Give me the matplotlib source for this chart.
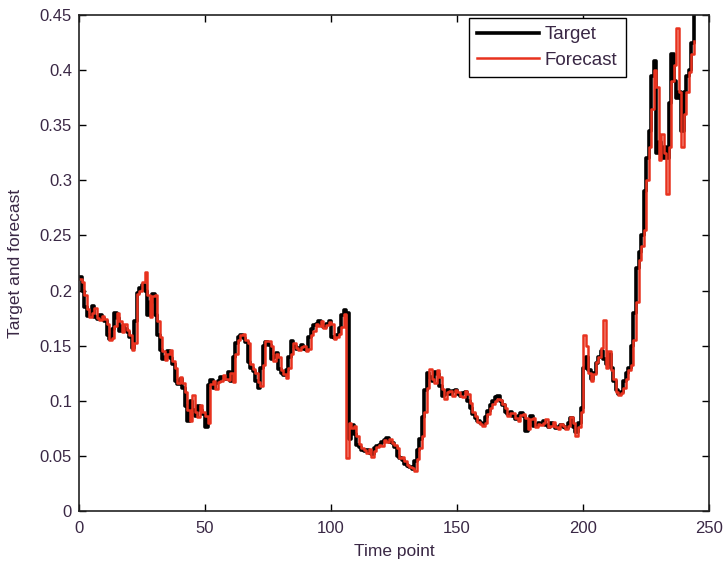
import numpy as np
import matplotlib
matplotlib.use('Agg')
import matplotlib.pyplot as plt

# Values (time points 0..244)
target = [
    0.212, 0.200, 0.185, 0.177, 0.178, 0.186, 0.176, 0.174, 0.178, 0.175,
    0.172, 0.160, 0.156, 0.165, 0.180, 0.175, 0.163, 0.168, 0.165, 0.162,
    0.158, 0.148, 0.172, 0.198, 0.202, 0.205, 0.200, 0.178, 0.190, 0.197,
    0.178, 0.160, 0.146, 0.138, 0.140, 0.145, 0.139, 0.133, 0.118, 0.115,
    0.120, 0.112, 0.095, 0.082, 0.100, 0.092, 0.086, 0.095, 0.092, 0.088,
    0.076, 0.114, 0.119, 0.112, 0.116, 0.118, 0.122, 0.121, 0.120, 0.126,
    0.118, 0.140, 0.152, 0.158, 0.160, 0.157, 0.153, 0.135, 0.130, 0.127,
    0.118, 0.112, 0.130, 0.150, 0.153, 0.151, 0.138, 0.140, 0.143, 0.129,
    0.125, 0.123, 0.128, 0.140, 0.154, 0.150, 0.147, 0.148, 0.151, 0.147,
    0.146, 0.158, 0.165, 0.169, 0.170, 0.172, 0.169, 0.167, 0.170, 0.172,
    0.158, 0.157, 0.160, 0.166, 0.178, 0.182, 0.180, 0.065, 0.078, 0.070,
    0.060, 0.058, 0.055, 0.054, 0.055, 0.053, 0.052, 0.057, 0.059, 0.060,
    0.063, 0.064, 0.066, 0.063, 0.062, 0.058, 0.050, 0.048, 0.046, 0.043,
    0.041, 0.040, 0.038, 0.045, 0.055, 0.065, 0.085, 0.110, 0.125, 0.122,
    0.118, 0.126, 0.124, 0.113, 0.104, 0.106, 0.110, 0.106, 0.109, 0.110,
    0.106, 0.104, 0.107, 0.108, 0.100, 0.093, 0.088, 0.084, 0.082, 0.080,
    0.079, 0.085, 0.091, 0.096, 0.100, 0.103, 0.104, 0.100, 0.096, 0.090,
    0.088, 0.090, 0.086, 0.083, 0.086, 0.089, 0.086, 0.073, 0.082, 0.086,
    0.077, 0.078, 0.080, 0.079, 0.082, 0.078, 0.076, 0.080, 0.078, 0.075,
    0.076, 0.078, 0.076, 0.075, 0.080, 0.084, 0.076, 0.072, 0.080, 0.093,
    0.130, 0.140, 0.128, 0.120, 0.125, 0.134, 0.140, 0.145, 0.138, 0.133,
    0.142, 0.130, 0.118, 0.110, 0.106, 0.108, 0.118, 0.125, 0.130, 0.150,
    0.180, 0.220, 0.235, 0.250, 0.290, 0.320, 0.345, 0.395, 0.408, 0.325,
    0.335, 0.320, 0.330, 0.320, 0.370, 0.415, 0.390, 0.375, 0.380, 0.345,
    0.380, 0.395, 0.400, 0.425, 0.450,
]

forecast = [
    0.210, 0.208, 0.196, 0.183, 0.176, 0.180, 0.184, 0.175, 0.173, 0.177,
    0.174, 0.170, 0.155, 0.157, 0.168, 0.180, 0.172, 0.162, 0.170, 0.164,
    0.160, 0.146, 0.152, 0.197, 0.200, 0.208, 0.217, 0.196, 0.176, 0.195,
    0.196, 0.172, 0.158, 0.145, 0.137, 0.142, 0.146, 0.136, 0.130, 0.116,
    0.122, 0.116, 0.108, 0.092, 0.082, 0.105, 0.090, 0.085, 0.096, 0.090,
    0.086, 0.080, 0.115, 0.118, 0.111, 0.117, 0.118, 0.123, 0.120, 0.119,
    0.125, 0.117, 0.142, 0.155, 0.160, 0.161, 0.155, 0.152, 0.133, 0.129,
    0.125, 0.117, 0.113, 0.132, 0.154, 0.154, 0.150, 0.136, 0.142, 0.140,
    0.128, 0.124, 0.121, 0.130, 0.142, 0.152, 0.148, 0.146, 0.149, 0.150,
    0.145, 0.147, 0.160, 0.163, 0.170, 0.168, 0.172, 0.166, 0.169, 0.171,
    0.170, 0.156, 0.158, 0.161, 0.167, 0.179, 0.048, 0.080, 0.075, 0.077,
    0.068, 0.061, 0.057, 0.055, 0.053, 0.056, 0.049, 0.054, 0.058, 0.060,
    0.059, 0.064, 0.063, 0.065, 0.062, 0.060, 0.057, 0.048, 0.049, 0.045,
    0.042, 0.040, 0.039, 0.036, 0.047, 0.057, 0.068, 0.090, 0.112, 0.129,
    0.120, 0.116, 0.128, 0.122, 0.111, 0.102, 0.108, 0.109, 0.104, 0.110,
    0.108, 0.104, 0.103, 0.109, 0.106, 0.098, 0.090, 0.086, 0.081, 0.079,
    0.077, 0.080, 0.088, 0.093, 0.097, 0.100, 0.102, 0.101, 0.097, 0.093,
    0.086, 0.089, 0.089, 0.084, 0.082, 0.087, 0.088, 0.084, 0.074, 0.083,
    0.084, 0.076, 0.079, 0.078, 0.080, 0.083, 0.076, 0.077, 0.081, 0.076,
    0.074, 0.079, 0.077, 0.074, 0.077, 0.085, 0.080, 0.068, 0.076, 0.090,
    0.160, 0.150, 0.125, 0.118, 0.124, 0.135, 0.140, 0.148, 0.173, 0.130,
    0.145, 0.128, 0.120, 0.108, 0.105, 0.107, 0.112, 0.120, 0.128, 0.132,
    0.155, 0.190, 0.228, 0.240, 0.255, 0.300, 0.330, 0.365, 0.400, 0.385,
    0.318, 0.342, 0.325, 0.288, 0.330, 0.390, 0.405, 0.438, 0.380, 0.330,
    0.360, 0.380, 0.398, 0.415, 0.426,
]

x_ticks = [0, 50, 100, 150, 200, 250]
y_ticks = [0, 0.05, 0.1, 0.15, 0.2, 0.25, 0.3, 0.35, 0.4, 0.45]
y_ticklabels = ['0', '0.05', '0.1', '0.15', '0.2', '0.25', '0.3', '0.35', '0.4', '0.45']

txt_color = '#3a2845'
plt.rcParams['font.family'] = ['Liberation Sans', 'DejaVu Sans']

fig = plt.figure(figsize=(7.28, 5.64), dpi=100)
ax = fig.add_axes([0.1085, 0.094, 0.8655, 0.8795])

ax.plot(np.arange(len(target)), target, color='black', lw=2.6,
        drawstyle='steps-post', label='Target')
ax.plot(np.arange(len(forecast)), forecast, color='#e8321e', lw=1.8,
        drawstyle='steps-post', label='Forecast')

ax.set_xlim(0, 250)
ax.set_ylim(0, 0.45)
ax.set_xticks(x_ticks)
ax.set_yticks(y_ticks)
ax.set_yticklabels(y_ticklabels)
ax.tick_params(direction='in', length=5, width=1, top=True, right=True,
               labelsize=12, labelcolor=txt_color)
ax.tick_params(axis='x', pad=7)
ax.tick_params(axis='y', pad=5)
for s in ax.spines.values():
    s.set_linewidth(1.2)
    s.set_color('#222222')

ax.set_xlabel('Time point', fontsize=12.5, color=txt_color, labelpad=6)
ax.set_ylabel('Target and forecast', fontsize=12.5, color=txt_color, labelpad=12)

leg = ax.legend(loc='upper right', bbox_to_anchor=(0.868, 0.994), borderaxespad=0,
                fontsize=13.5, handlelength=3.3, handletextpad=0.3, borderpad=0.45,
                labelspacing=0.45, fancybox=False, framealpha=1)
leg.get_frame().set_edgecolor('black')
leg.get_frame().set_linewidth(1.0)
for t in leg.get_texts():
    t.set_color(txt_color)

plt.savefig('out.png', dpi=100)
